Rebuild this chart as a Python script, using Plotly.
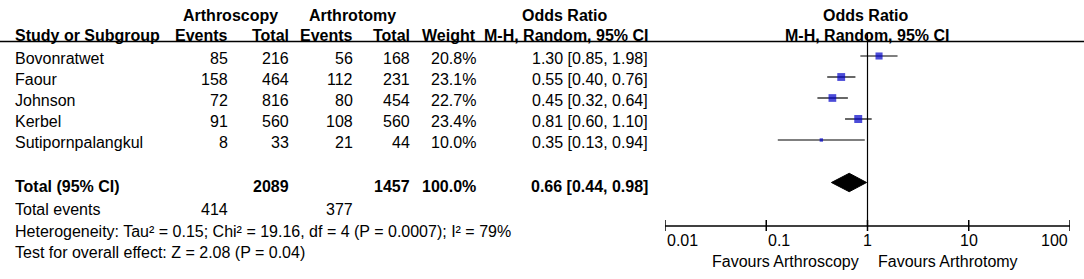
import math
import plotly.graph_objects as go

# ---------------- data ----------------
studies = ["Bovonratwet", "Faour", "Johnson", "Kerbel", "Sutipornpalangkul"]
scopy_events = [85, 158, 72, 91, 8]
scopy_total = [216, 464, 816, 560, 33]
tomy_events = [56, 112, 80, 108, 21]
tomy_total = [168, 231, 454, 560, 44]
weights = [20.8, 23.1, 22.7, 23.4, 10.0]
odds_ratio = [1.30, 0.55, 0.45, 0.81, 0.35]
ci_low = [0.85, 0.40, 0.32, 0.60, 0.13]
ci_high = [1.98, 0.76, 0.64, 1.10, 0.94]

total_scopy = 2089
total_tomy = 1457
total_weight = 100.0
pooled_or = 0.66
pooled_low = 0.44
pooled_high = 0.98
total_events_scopy = 414
total_events_tomy = 377
heterogeneity_text = "Heterogeneity: Tau² = 0.15; Chi² = 19.16, df = 4 (P = 0.0007); I² = 79%"
overall_text = "Test for overall effect: Z = 2.08 (P = 0.04)"

tick_vals = [0.01, 0.1, 1, 10, 100]
tick_labels = ["0.01", "0.1", "1", "10", "100"]

# ---------------- layout helpers ----------------
W, H = 1084, 279
FONT = "Arial, Liberation Sans, sans-serif"
BLACK = "#000000"
BLUE = "#0000c8"

row0, step = 58, 21
rows = [row0 + i * step for i in range(len(studies))]
marker_rows = [r - 2 for r in rows]
y_total, y_events, y_het, y_test = 186.5, 209, 231, 252
y_axis = 226

col_scopy_ev, col_scopy_tot = 230, 291
col_tomy_ev, col_tomy_tot = 355, 412
col_weight, col_or = 478, 650
col_name = 13

annotations = []


def txt(x, y, s, anchor="left", bold=False, xref="paper", xshift=0):
    annotations.append(dict(
        x=(x / W) if xref == "paper" else math.log10(x), y=y, xref=xref, yref="y",
        text=f"<b>{s}</b>" if bold else s, showarrow=False,
        xanchor=anchor, yanchor="middle", xshift=xshift,
        font=dict(family=FONT, size=16, color=BLACK)))


# header
txt(230, 15.5, "Arthroscopy", "center", True)
txt(352, 15.5, "Arthrotomy", "center", True)
txt(565, 15.5, "Odds Ratio", "center", True)
txt(866, 15.5, "Odds Ratio", "center", True)
txt(col_name, 35, "Study or Subgroup", "left", True)
txt(col_scopy_ev, 35, "Events", "right", True)
txt(col_scopy_tot, 35, "Total", "right", True)
txt(col_tomy_ev, 35, "Events", "right", True)
txt(col_tomy_tot, 35, "Total", "right", True)
txt(col_weight, 35, "Weight", "right", True)
txt(col_or, 35, "M-H, Random, 95% CI", "right", True)
txt(866.5, 35, "M-H, Random, 95% CI", "center", True)

# study rows
for i, name in enumerate(studies):
    y = rows[i]
    txt(col_name, y, name)
    txt(col_scopy_ev, y, str(scopy_events[i]), "right")
    txt(col_scopy_tot, y, str(scopy_total[i]), "right")
    txt(col_tomy_ev, y, str(tomy_events[i]), "right")
    txt(col_tomy_tot, y, str(tomy_total[i]), "right")
    txt(col_weight, y, f"{weights[i]:.1f}%", "right")
    txt(col_or, y, f"{odds_ratio[i]:.2f} [{ci_low[i]:.2f}, {ci_high[i]:.2f}]", "right")

# totals
txt(col_name, y_total, "Total (95% CI)", "left", True)
txt(col_scopy_tot, y_total, str(total_scopy), "right", True)
txt(col_tomy_tot, y_total, str(total_tomy), "right", True)
txt(col_weight, y_total, f"{total_weight:.1f}%", "right", True)
txt(col_or, y_total, f"{pooled_or:.2f} [{pooled_low:.2f}, {pooled_high:.2f}]", "right", True)
txt(col_name, y_events, "Total events")
txt(col_scopy_ev, y_events, str(total_events_scopy), "right")
txt(col_tomy_ev, y_events, str(total_events_tomy), "right")
txt(col_name, y_het, heterogeneity_text)
txt(col_name, y_test, overall_text)

# axis tick labels
tick_anchor = ["left", "left", "center", "center", "right"]
for v, lab, a in zip(tick_vals, tick_labels, tick_anchor):
    txt(v, 240.5, lab, a, xref="x")
txt(1, 261, "Favours Arthroscopy", "right", xref="x", xshift=-7)
txt(1, 261, "Favours Arthrotomy", "left", xref="x", xshift=8)

fig = go.Figure()

# CI lines
ci_x, ci_y = [], []
for lo, hi, y in zip(ci_low, ci_high, marker_rows):
    ci_x += [lo, hi, None]
    ci_y += [y, y, None]
fig.add_trace(go.Scatter(x=ci_x, y=ci_y, mode="lines",
                         line=dict(color=BLACK, width=1.2), hoverinfo="skip"))

# study squares (size proportional to weight)
fig.add_trace(go.Scatter(x=odds_ratio, y=marker_rows, mode="markers",
                         marker=dict(symbol="square", color=BLUE,
                                     size=[0.34 * w for w in weights],
                                     line=dict(width=0)),
                         hoverinfo="skip"))

# pooled diamond
dh = 9.2
y_d = y_total - 4
fig.add_trace(go.Scatter(
    x=[pooled_low, pooled_or, pooled_high, pooled_or, pooled_low],
    y=[y_d, y_d - dh, y_d, y_d + dh, y_d],
    mode="lines", fill="toself", fillcolor=BLACK,
    line=dict(color=BLACK, width=1), hoverinfo="skip"))

# axis ticks
tx, ty = [], []
for v in tick_vals:
    tx += [v, v, None]
    ty += [y_axis - 6, y_axis + 5, None]
fig.add_trace(go.Scatter(x=tx, y=ty, mode="lines",
                         line=dict(color=BLACK, width=1.5), hoverinfo="skip"))

shapes = [
    # header rule
    dict(type="line", xref="paper", yref="y", x0=0, x1=1, y0=41.5, y1=41.5,
         line=dict(color=BLACK, width=1.5)),
    # line of no effect
    dict(type="line", xref="x", yref="y", x0=1, x1=1, y0=33, y1=y_axis,
         line=dict(color=BLACK, width=1.2)),
    # x axis
    dict(type="line", xref="x", yref="y", x0=tick_vals[0], x1=tick_vals[-1],
         y0=y_axis, y1=y_axis, line=dict(color=BLACK, width=1.5)),
]

fig.update_layout(
    width=W, height=H, margin=dict(l=0, r=0, t=0, b=0),
    paper_bgcolor="white", plot_bgcolor="white", showlegend=False,
    xaxis=dict(type="log", range=[-2, 2], domain=[665 / W, 1070 / W],
               visible=False, fixedrange=True),
    yaxis=dict(range=[H, 0], domain=[0, 1], visible=False, fixedrange=True),
    annotations=annotations, shapes=shapes,
)

fig.write_html("out.html", config={"displayModeBar": False},
               post_script="document.body.style.margin='0';"
                           "document.body.style.overflow='hidden';")
